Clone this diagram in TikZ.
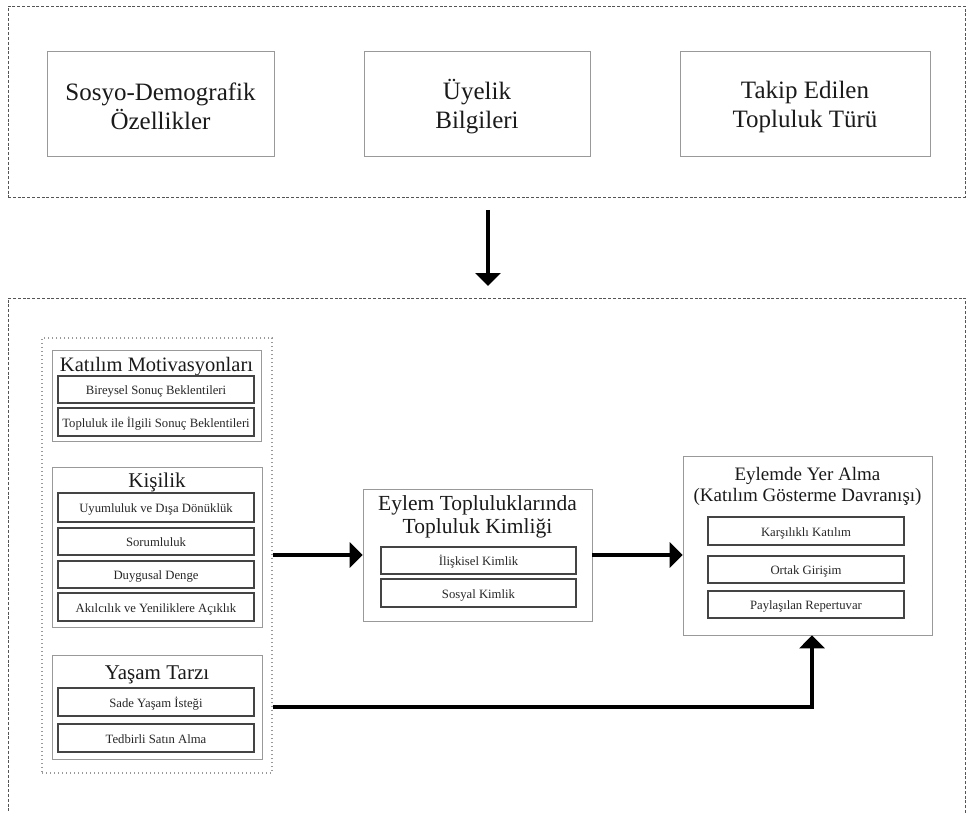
\documentclass[tikz,border=0pt]{standalone}
\usepackage{fontspec}
\setmainfont{Liberation Serif}
\usetikzlibrary{arrows.meta,positioning}
\definecolor{subline}{HTML}{444444}
\definecolor{boxline}{HTML}{999999}
\definecolor{outline}{HTML}{555555}
\definecolor{txt}{HTML}{1A1A1A}
\definecolor{subtxt}{HTML}{262626}
\tikzset{
  outerbox/.style={draw=outline,line width=0.9pt,dash pattern=on 3pt off 1.8pt,inner sep=0pt},
  dotbox/.style={draw=boxline,line width=1.1pt,dash pattern=on 1pt off 3pt,inner sep=0pt},
  topbox/.style={draw=boxline,line width=0.8pt,inner sep=0pt,align=center,text=txt,font=\fontsize{25}{29}\selectfont},
  toptext/.style={text=txt,inner sep=0pt,align=center,font=\fontsize{25}{29}\selectfont},
  groupbox/.style={draw=boxline,line width=0.8pt,inner sep=0pt},
  subbox/.style={draw=subline,line width=1.4pt,inner sep=0pt,text=subtxt,text height=10pt,text depth=0pt,font=\fontsize{12.7}{15}\selectfont},
  title/.style={text=txt,inner sep=0pt,anchor=base,align=center},
  arr/.style={line width=3.5pt,-{Triangle[length=13pt,width=25pt]}}
}
\newcommand{\bx}[6]{% style, name, x1, y1, x2, y2 (no text)
  \node[#1,minimum width={#5-#3},minimum height={#6-#4}] (#2) at ({(#3+#5)/2},{(#4+#6)/2}) {};}
\newcommand{\bxt}[7]{% style, name, x1, y1, x2, y2, text
  \node[#1,minimum width={#5-#3},minimum height={#6-#4}] (#2) at ({(#3+#5)/2},{(#4+#6)/2}) {#7};}
\begin{document}
\begin{tikzpicture}[x=1pt,y=-1pt]
\useasboundingbox (0,0) rectangle (966,813);
% top group
\bx{outerbox}{top}{8}{6}{965}{197}
\bx{topbox}{sd}{47}{51}{274}{156}
\bx{topbox}{uy}{364}{51}{590}{156}
\bx{topbox}{tt}{680}{51}{930}{156}
\node[toptext] (sdt) at ([yshift=-3pt]sd.center) {Sosyo-Demografik\\Özellikler};
\node[toptext] (uyt) at ([yshift=-3pt]uy.center) {Üyelik\\Bilgileri};
\node[toptext] (ttt) at ([yshift=-3pt]tt.center) {Takip Edilen\\Topluluk Türü};
% bottom group
\bx{outerbox}{bot}{8}{298}{965}{840}
\coordinate (d1) at (488,210);
\coordinate (d2) at (488,286);
\draw[arr] (d1) -- (d2);
% left container
\bx{dotbox}{lc}{42}{338}{272}{773}
% Katilim Motivasyonlari
\bx{groupbox}{km}{52}{350}{261}{441}
\node[title,font=\fontsize{20.5}{23}\selectfont] (kmt) at (156.5,371) {Katılım Motivasyonları};
\bxt{subbox}{km1}{58}{376}{254}{403}{Bireysel Sonuç Beklentileri}
\bxt{subbox}{km2}{58}{408}{254}{436}{Topluluk ile İlgili Sonuç Beklentileri}
% Kisilik
\bx{groupbox}{ks}{52}{467}{262}{627}
\node[title,font=\fontsize{21}{23}\selectfont] (kst) at (157,487) {Kişilik};
\bxt{subbox}{ks1}{58}{493}{254}{522}{Uyumluluk ve Dışa Dönüklük}
\bxt{subbox}{ks2}{58}{528}{254}{555}{Sorumluluk}
\bxt{subbox}{ks3}{58}{561}{254}{588}{Duygusal Denge}
\bxt{subbox}{ks4}{58}{593}{254}{621}{Akılcılık ve Yeniliklere Açıklık}
% Yasam Tarzi
\bx{groupbox}{ys}{52}{655}{262}{759}
\node[title,font=\fontsize{21}{23}\selectfont] (yst) at (157,679) {Yaşam Tarzı};
\bxt{subbox}{ys1}{58}{688}{254}{716}{Sade Yaşam İsteği}
\bxt{subbox}{ys2}{58}{724}{254}{752}{Tedbirli Satın Alma}
% Eylem Topluluklarinda
\bx{groupbox}{et}{363}{489}{592}{621}
\node[title,font=\fontsize{21.5}{23}\selectfont] (ett1) at (477.5,510) {Eylem Topluluklarında};
\node[title,font=\fontsize{21.5}{23}\selectfont] (ett2) at (477.5,533) {Topluluk Kimliği};
\bxt{subbox}{et1}{381}{547}{576}{574}{İlişkisel Kimlik}
\bxt{subbox}{et2}{381}{579}{576}{607}{Sosyal Kimlik}
% Eylemde Yer Alma
\bx{groupbox}{ey}{683}{456}{932}{635}
\node[title,font=\fontsize{19}{21}\selectfont] (eyt1) at (807.5,480) {Eylemde Yer Alma};
\node[title,font=\fontsize{19}{21}\selectfont] (eyt2) at (807.5,501) {(Katılım Gösterme Davranışı)};
\bxt{subbox}{ey1}{708}{517}{904}{545}{Karşılıklı Katılım}
\bxt{subbox}{ey2}{708}{556}{904}{583}{Ortak Girişim}
\bxt{subbox}{ey3}{708}{591}{904}{618}{Paylaşılan Repertuvar}
% connectors
\draw[arr] (lc.east |- et.west) -- (et.west);
\draw[arr] (et.east) -- (et.east -| ey.west);
\draw[arr] (lc.east |- ys.east) -| ([xshift=4.5pt]ey.south);
\end{tikzpicture}
\end{document}
